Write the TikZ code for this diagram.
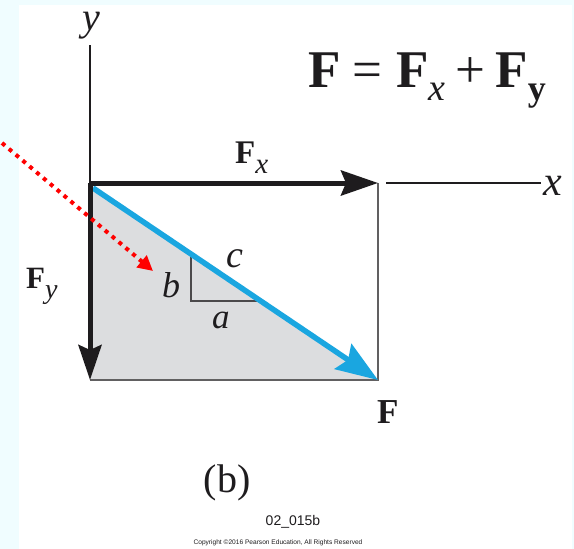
\documentclass[tikz,border=0pt]{standalone}
\usepackage{fontspec}
\setmainfont{Liberation Serif}
\newfontfamily\sansf{Liberation Sans}
\usetikzlibrary{arrows.meta}
\definecolor{bgcyan}{RGB}{240,253,255}
\definecolor{blueF}{RGB}{26,166,224}
\definecolor{grayfill}{RGB}{220,221,223}
\definecolor{ink}{RGB}{30,28,30}
\definecolor{redarrow}{RGB}{255,0,0}
\tikzset{
  lbl/.style={inner sep=0pt, anchor=base west, text=ink},
  thickvec/.style={draw=ink, line width=5pt},
  thinline/.style={draw=ink!70, line width=1.4pt},
  axisline/.style={draw=ink, line width=2pt},
}
\newcommand{\fsz}[1]{\fontsize{#1}{#1}\selectfont}
\begin{document}
\begin{tikzpicture}[x=1pt,y=-1pt]
\useasboundingbox (0,0) rectangle (574,549);
\fill[bgcyan] (0,0) rectangle (574,549);
\fill[white] (19,5) rectangle (572,549);

\coordinate (O) at (90,183);
\coordinate (X) at (378,183);
\coordinate (Y) at (90,380);
\coordinate (P) at (378,380);
\coordinate (Ytop) at (90,45);
\coordinate (Xa) at (386,183);
\coordinate (Xb) at (541,183);
\coordinate (Bs) at (93,188);

% shaded triangle
\fill[grayfill] (O) -- (Y) -- (P) -- cycle;
% rectangle sides
\draw[thinline] (X) -- (P) -- (Y);
% axes
\draw[axisline] (Ytop) -- (O);
\draw[axisline] (Xa) -- (Xb);

% slope triangle
\coordinate (T1) at (191,254);
\coordinate (T2) at (191,301);
\coordinate (T3) at (259,301);
\draw[draw=ink!80, line width=1.2pt] (T1) -- (T2) -- (T3);

% resultant F
\draw[draw=blueF, line width=5.5pt, -{Stealth[length=42pt,width=30pt,inset=6pt]}] (Bs) -- (P);

% components
\draw[thickvec, -{Stealth[length=37pt,width=25pt,inset=5pt]}] (O) -- (X);
\draw[thickvec, -{Stealth[length=35pt,width=23pt,inset=5pt]}] (O) -- (Y);

% red dotted pointer
\coordinate (R0) at (2,143);
\coordinate (R1) at (153,271);
\draw[draw=redarrow, line width=4pt, dash pattern=on 4pt off 5pt, -{Triangle[length=15pt,width=15pt]}] (R0) -- (R1);

% labels
\node[inner sep=0pt, text=ink] (ylbl) at (91,26) {\fsz{40}\itshape y};
\node[lbl] (xlbl) at (543,195) {\fsz{42}\itshape x};
\node[lbl] (fx) at (235,163) {\fsz{33}\bfseries F\raisebox{-10pt}{\fsz{29}\mdseries\itshape x}};
\node[lbl] (fy) at (26,288) {\fsz{31}\bfseries F\raisebox{-10pt}{\fsz{28}\mdseries\itshape y}};
\node[lbl] (flbl) at (377,423) {\fsz{35}\bfseries F};
\node[lbl] (blbl) at (162,297) {\fsz{36}\itshape b};
\node[lbl] (clbl) at (226,267) {\fsz{38}\itshape c};
\node[lbl] (albl) at (212,328) {\fsz{35}\itshape a};

\node[lbl] (eq) at (308,87) {\fsz{53}{\bfseries F}\kern12pt=\kern14pt{\bfseries F}\raisebox{-13pt}{\fsz{38}\itshape x}\kern10pt+\kern10pt{\bfseries F}\raisebox{-13pt}{\fsz{36}\bfseries y}};

\node[inner sep=0pt, text=ink] (cap) at (227,483) {\fsz{40}(b)};
\node[inner sep=0pt, text=ink] (code) at (293,522) {\sansf\fsz{14}02\_015b};
\node[inner sep=0pt, text=ink] (copy) at (278,543) {\sansf\fsz{6.6}Copyright \textcopyright 2016 Pearson Education, All Rights Reserved};
\end{tikzpicture}
\end{document}
